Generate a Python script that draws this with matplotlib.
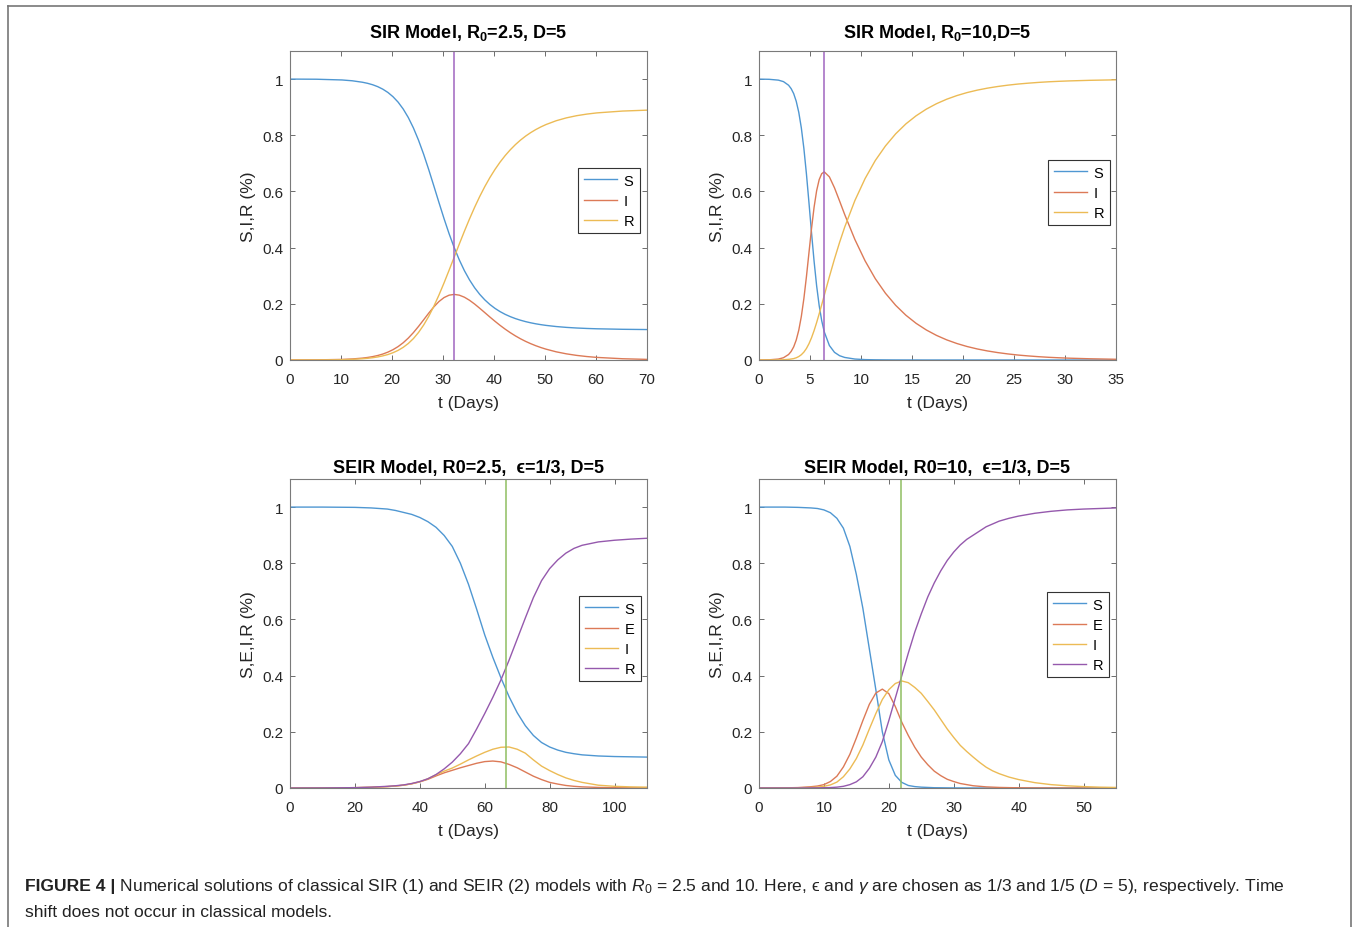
import matplotlib
matplotlib.use('Agg')
import matplotlib.pyplot as plt
from matplotlib import font_manager
from matplotlib.lines import Line2D

# ---------------- data ----------------
# SIR, R0 = 2.5, D = 5
sir25_t = [0, 5.2, 10.2, 12.2, 14.2, 15.2, 16.2, 17.2, 18.2, 19.2, 20.2, 21.2, 22.2, 23.2, 24.2,
           25.2, 26.2, 27.2, 28.2, 29.2, 30.2, 31.2, 32.2, 33.2, 34.2, 35.2, 36.2, 37.2, 38.2,
           39.2, 40.2, 41.2, 42.2, 43.2, 44.2, 45.2, 46.2, 47.2, 48.2, 49.2, 50.2, 52.2, 54.2,
           56.2, 58.2, 60.2, 65.2, 70]
sir25_S = [1.0, 0.9995, 0.9969, 0.994, 0.9888, 0.985, 0.9799, 0.9731, 0.9641, 0.9524, 0.9372,
           0.9179, 0.8934, 0.863, 0.8261, 0.7825, 0.7327, 0.6779, 0.6199, 0.561, 0.5035, 0.4493,
           0.4, 0.3562, 0.3179, 0.2851, 0.2572, 0.2337, 0.214, 0.1975, 0.1837, 0.1721, 0.1624,
           0.1543, 0.1474, 0.1416, 0.1366, 0.1324, 0.1288, 0.1258, 0.1232, 0.1191, 0.1161,
           0.1139, 0.1123, 0.1111, 0.1093, 0.1084]
sir25_I = [0.0001, 0.00046, 0.00205, 0.0037, 0.0067, 0.009, 0.012, 0.016, 0.0212, 0.0281, 0.0368,
           0.0478, 0.0615, 0.0781, 0.0976, 0.1195, 0.143, 0.1668, 0.189, 0.208, 0.2222, 0.2308,
           0.2335, 0.2308, 0.2235, 0.2126, 0.1992, 0.1842, 0.1686, 0.1529, 0.1377, 0.1232,
           0.1097, 0.0972, 0.0858, 0.0755, 0.0663, 0.0581, 0.0508, 0.0443, 0.0386, 0.0291,
           0.0219, 0.0164, 0.0123, 0.0092, 0.0045, 0.0022]
sir25_R = [0.0, 0.0, 0.00105, 0.0023, 0.0045, 0.006, 0.0081, 0.0109, 0.0147, 0.0195, 0.026,
           0.0343, 0.0451, 0.0589, 0.0763, 0.098, 0.1243, 0.1553, 0.1911, 0.231, 0.2743, 0.3199,
           0.3665, 0.413, 0.4586, 0.5023, 0.5436, 0.5821, 0.6174, 0.6496, 0.6786, 0.7047,
           0.7279, 0.7485, 0.7668, 0.7829, 0.7971, 0.8095, 0.8204, 0.8299, 0.8382, 0.8518,
           0.862, 0.8697, 0.8754, 0.8797, 0.8862, 0.8894]
sir25_peak = 32.2

# SIR, R0 = 10, D = 5
sir10_t = [0, 1.0, 1.9, 2.4, 2.9, 3.15, 3.4, 3.65, 3.9, 4.15, 4.4, 4.65, 4.9, 5.15, 5.4, 5.65,
           5.9, 6.15, 6.4, 6.9, 7.4, 7.9, 8.4, 9.4, 10.4, 11.4, 12.4, 13.4, 14.4, 15.4, 16.4,
           17.4, 18.4, 19.4, 20.4, 21.4, 22.4, 23.4, 24.4, 25.4, 26.4, 27.4, 28.4, 29.4, 30.4,
           32.4, 35]
sir10_S = [0.9999, 0.9992, 0.9963, 0.991, 0.9781, 0.9661, 0.9483, 0.921, 0.8815, 0.8263, 0.7531,
           0.6625, 0.5594, 0.4526, 0.3517, 0.2641, 0.1935, 0.1396, 0.1, 0.0516, 0.0273, 0.0153,
           0.0091, 0.0034, 0.0014, 0.0007, 0.0004, 0.0002, 0.0001, 0.0001, 0.0, 0.0, 0.0, 0.0,
           0.0, 0.0, 0.0, 0.0, 0.0, 0.0, 0.0, 0.0, 0.0, 0.0, 0.0, 0.0, 0.0]
sir10_I = [0.0001, 0.0007, 0.0033, 0.0081, 0.0196, 0.0304, 0.0467, 0.0711, 0.1062, 0.1549,
           0.2188, 0.2965, 0.3826, 0.4681, 0.5437, 0.6026, 0.6421, 0.6634, 0.6697, 0.652, 0.613,
           0.566, 0.518, 0.429, 0.353, 0.2895, 0.2375, 0.1946, 0.1594, 0.1306, 0.107, 0.0876,
           0.0717, 0.0587, 0.048, 0.0393, 0.0322, 0.0264, 0.0216, 0.0176, 0.0145, 0.0118,
           0.0096, 0.0079, 0.0065, 0.0044, 0.0026]
sir10_R = [0.0, 0.0001, 0.0004, 0.0009, 0.0023, 0.0035, 0.005, 0.0079, 0.0123, 0.0188, 0.0281,
           0.041, 0.058, 0.0793, 0.1046, 0.1333, 0.1644, 0.197, 0.2303, 0.2964, 0.3597, 0.4187,
           0.4729, 0.5676, 0.6458, 0.7101, 0.7621, 0.8052, 0.8405, 0.8693, 0.893, 0.9124,
           0.9283, 0.9413, 0.952, 0.9607, 0.9678, 0.9736, 0.9784, 0.9824, 0.9855, 0.9882,
           0.9904, 0.9921, 0.9935, 0.9956, 0.9974]
sir10_peak = 6.4

# SEIR, R0 = 2.5, eps = 1/3, D = 5
seir25_t = [0, 10, 20, 25, 30, 32.5, 35, 37.5, 40, 42.5, 45, 47.5, 50, 52.5, 55, 57.5, 60, 62.5,
            65, 67.5, 70, 72.5, 75, 77.5, 80, 82.5, 85, 87.5, 90, 95, 100, 105, 110]
seir25_S = [1.0, 1.0, 0.999, 0.997, 0.993, 0.988, 0.981, 0.974, 0.963, 0.948, 0.928, 0.899,
            0.86, 0.80, 0.725, 0.637, 0.545, 0.465, 0.392, 0.325, 0.268, 0.222, 0.187, 0.162,
            0.146, 0.135, 0.127, 0.122, 0.118, 0.114, 0.112, 0.111, 0.11]
seir25_E = [0.0, 0.0003, 0.0012, 0.0025, 0.005, 0.007, 0.01, 0.015, 0.022, 0.031, 0.043, 0.054,
            0.063, 0.072, 0.08, 0.088, 0.094, 0.096, 0.093, 0.084, 0.072, 0.057, 0.042, 0.03,
            0.02, 0.014, 0.009, 0.006, 0.004, 0.002, 0.001, 0.0007, 0.0005]
seir25_I = [0.0, 0.0003, 0.0012, 0.0025, 0.005, 0.007, 0.01, 0.015, 0.022, 0.033, 0.047, 0.06,
            0.071, 0.085, 0.1, 0.114, 0.127, 0.138, 0.145, 0.146, 0.138, 0.124, 0.10, 0.078,
            0.062, 0.048, 0.036, 0.027, 0.02, 0.01, 0.006, 0.004, 0.003]
seir25_R = [0.0, 0.0003, 0.0012, 0.003, 0.006, 0.008, 0.011, 0.016, 0.023, 0.033, 0.048, 0.068,
            0.092, 0.122, 0.158, 0.21, 0.265, 0.323, 0.385, 0.455, 0.53, 0.605, 0.678, 0.738,
            0.781, 0.812, 0.836, 0.853, 0.864, 0.876, 0.882, 0.886, 0.889]
seir25_peak = 66.5

# SEIR, R0 = 10, eps = 1/3, D = 5
seir10_t = [0, 4, 6, 8, 9, 10, 11, 12, 13, 14, 15, 16, 17, 18, 19, 20, 21, 22, 23, 24, 25, 26,
            27, 28, 29, 30, 31, 32, 33, 34, 35, 36, 37, 38.5, 40, 42.5, 45, 47.5, 50, 52.5, 55]
seir10_S = [1.0, 1.0, 0.999, 0.997, 0.995, 0.99, 0.98, 0.96, 0.925, 0.86, 0.76, 0.64, 0.495,
            0.35, 0.2, 0.1, 0.045, 0.02, 0.009, 0.005, 0.003, 0.002, 0.001, 0.0008, 0.0005,
            0.0003, 0.0002, 0.0001, 0.0001, 0.0, 0.0, 0.0, 0.0, 0.0, 0.0, 0.0, 0.0, 0.0, 0.0,
            0.0, 0.0]
seir10_E = [0.0001, 0.0005, 0.0015, 0.0045, 0.007, 0.012, 0.023, 0.042, 0.075, 0.12, 0.178,
            0.24, 0.298, 0.338, 0.352, 0.336, 0.29, 0.234, 0.187, 0.145, 0.11, 0.083, 0.06,
            0.044, 0.031, 0.023, 0.016, 0.012, 0.008, 0.006, 0.004, 0.003, 0.002, 0.0013,
            0.0008, 0.0004, 0.0002, 0.0001, 0.0001, 0.0, 0.0]
seir10_I = [0.0, 0.0002, 0.0006, 0.0018, 0.003, 0.006, 0.011, 0.021, 0.04, 0.068, 0.105, 0.153,
            0.21, 0.265, 0.315, 0.35, 0.372, 0.381, 0.375, 0.358, 0.337, 0.308, 0.278, 0.244,
            0.21, 0.18, 0.152, 0.13, 0.11, 0.091, 0.074, 0.061, 0.051, 0.039, 0.03, 0.019,
            0.012, 0.0078, 0.005, 0.003, 0.002]
seir10_R = [0.0, 0.0, 0.0, 0.0003, 0.0005, 0.001, 0.0015, 0.003, 0.006, 0.012, 0.022, 0.04,
            0.07, 0.11, 0.165, 0.24, 0.32, 0.40, 0.48, 0.555, 0.62, 0.68, 0.73, 0.773, 0.81,
            0.84, 0.865, 0.885, 0.90, 0.915, 0.93, 0.94, 0.95, 0.96, 0.968, 0.978, 0.985, 0.99,
            0.993, 0.995, 0.997]
seir10_peak = 21.9

EPS = '\u03f5'
titles = [r'SIR Model, R$_{\mathbf{0}}$=2.5, D=5',
          r'SIR Model, R$_{\mathbf{0}}$=10,D=5',
          'SEIR Model, R0=2.5,  ' + EPS + '=1/3, D=5',
          'SEIR Model, R0=10,  ' + EPS + '=1/3, D=5']
ylabels = ['S,I,R (%)', 'S,I,R (%)', 'S,E,I,R (%)', 'S,E,I,R (%)']
xlabel = 't (Days)'
xlims = [70, 35, 110, 55]
xticks = [list(range(0, 71, 10)), list(range(0, 36, 5)),
          list(range(0, 101, 20)), list(range(0, 51, 10))]
yticks = [0, 0.2, 0.4, 0.6, 0.8, 1.0]
ytick_labels = ['0', '0.2', '0.4', '0.6', '0.8', '1']

caption_bold = 'FIGURE 4 |'
caption_line1 = (r' Numerical solutions of classical SIR (1) and SEIR (2) models with $R_0$ = 2.5 '
                 'and 10. Here, ' + EPS + r' and $\gamma$ are chosen as 1/3 and 1/5 ($D$ = 5), '
                 'respectively. Time')
caption_line2 = 'shift does not occur in classical models.'

# ---------------- styling ----------------
names = {f.name for f in font_manager.fontManager.ttflist}
base_font = 'Liberation Sans'
cap_font = 'Liberation Sans Narrow' if 'Liberation Sans Narrow' in names else 'Liberation Sans'

plt.rcParams['font.family'] = [base_font, 'DejaVu Sans']
plt.rcParams['mathtext.fontset'] = 'custom'
plt.rcParams['mathtext.rm'] = cap_font
plt.rcParams['mathtext.it'] = cap_font + ':italic'
plt.rcParams['mathtext.bf'] = base_font + ':bold'

C_BLUE = '#4f97d2'
C_ORANGE = '#dc7a57'
C_YELLOW = '#ecbb55'
C_PURPLE = '#9559ad'
C_GREEN = '#8fbf62'
C_VPURPLE = '#a066c0'
SPINE = '#7a7a7a'
TXT = '#262626'

W, H = 1356, 928
fig = plt.figure(figsize=(W / 100, H / 100), dpi=100)


def px_axes(left, top, right, bottom):
    return fig.add_axes([left / W, 1 - bottom / H, (right - left) / W, (bottom - top) / H])


boxes = [(290, 52, 647, 361), (759, 52, 1116, 361), (290, 480, 647, 789), (759, 480, 1116, 789)]
legend_pos = [(578, 169), (1048, 161), (579, 597), (1047, 593)]
title_pads = [10, 10, 5, 5]

series = [
    (sir25_t, [(sir25_S, 'S', C_BLUE), (sir25_I, 'I', C_ORANGE), (sir25_R, 'R', C_YELLOW)],
     sir25_peak, C_VPURPLE),
    (sir10_t, [(sir10_S, 'S', C_BLUE), (sir10_I, 'I', C_ORANGE), (sir10_R, 'R', C_YELLOW)],
     sir10_peak, C_VPURPLE),
    (seir25_t, [(seir25_S, 'S', C_BLUE), (seir25_E, 'E', C_ORANGE), (seir25_I, 'I', C_YELLOW),
                (seir25_R, 'R', C_PURPLE)], seir25_peak, C_GREEN),
    (seir10_t, [(seir10_S, 'S', C_BLUE), (seir10_E, 'E', C_ORANGE), (seir10_I, 'I', C_YELLOW),
                (seir10_R, 'R', C_PURPLE)], seir10_peak, C_GREEN),
]

for k, (t, curves, peak, vcol) in enumerate(series):
    ax = px_axes(*boxes[k])
    handles = []
    for vals, lab, col in curves:
        ln, = ax.plot(t, vals, color=col, lw=1.0, label=lab)
        handles.append(ln)
    ax.axvline(peak, color=vcol, lw=1.1)
    ax.set_xlim(0, xlims[k])
    ax.set_ylim(0, 1.1)
    ax.set_xticks(xticks[k])
    ax.set_yticks(yticks, labels=ytick_labels)
    ax.tick_params(direction='in', length=3.5, width=0.6, top=True, right=True,
                   color='#555555', labelsize=11, labelcolor=TXT, pad=5)
    ax.tick_params(axis='x', pad=8.5)
    for sp in ax.spines.values():
        sp.set_color(SPINE)
        sp.set_linewidth(0.8)
    ax.set_title(titles[k], fontsize=13, fontweight='bold', color='black', pad=title_pads[k])
    ax.set_ylabel(ylabels[k], fontsize=12.5, color=TXT, labelpad=4)
    ax.set_xlabel(xlabel, fontsize=12.5, color=TXT, labelpad=6.5)
    lx, ly = legend_pos[k]
    leg = ax.legend(handles=handles, loc='upper left', bbox_to_anchor=(lx / W, 1 - ly / H),
                    bbox_transform=fig.transFigure, borderaxespad=0, fontsize=10.5,
                    handlelength=2.3, handletextpad=0.45, labelspacing=0.42,
                    borderpad=0.38, fancybox=False, framealpha=1, edgecolor='#333333')
    leg.get_frame().set_linewidth(0.8)

# frame around the panel
fig.add_artist(Line2D([8 / W, 8 / W], [0, 1 - 7 / H], transform=fig.transFigure,
                      color='#777777', lw=1.2))
fig.add_artist(Line2D([8 / W, 1351 / W], [1 - 7 / H, 1 - 7 / H], transform=fig.transFigure,
                      color='#777777', lw=1.2))
fig.add_artist(Line2D([1351 / W, 1351 / W], [0, 1 - 7 / H], transform=fig.transFigure,
                      color='#777777', lw=1.2))

# caption
fs = 12
t1 = fig.text(25 / W, 1 - 887 / H, caption_bold, fontsize=fs, fontweight='bold',
              family=[cap_font, 'DejaVu Sans'], va='center', color='#222222')
t2 = fig.text(0, 1 - 887 / H, caption_line1, fontsize=fs, family=[cap_font, 'DejaVu Sans'],
              va='center', color='#222222')
t3 = fig.text(25 / W, 1 - 913 / H, caption_line2, fontsize=fs,
              family=[cap_font, 'DejaVu Sans'], va='center', color='#222222')
r = fig.canvas.get_renderer()
b1 = t1.get_window_extent(r)
t2.set_x(b1.x1 / W)
b2 = t2.get_window_extent(r)
scale = (1280 - 25) / (b2.x1 - 25)
nfs = fs * scale
for tt in (t1, t2, t3):
    tt.set_fontsize(nfs)
b1 = t1.get_window_extent(r)
t2.set_x(b1.x1 / W)

fig.savefig('out.png', dpi=100, facecolor='white')
